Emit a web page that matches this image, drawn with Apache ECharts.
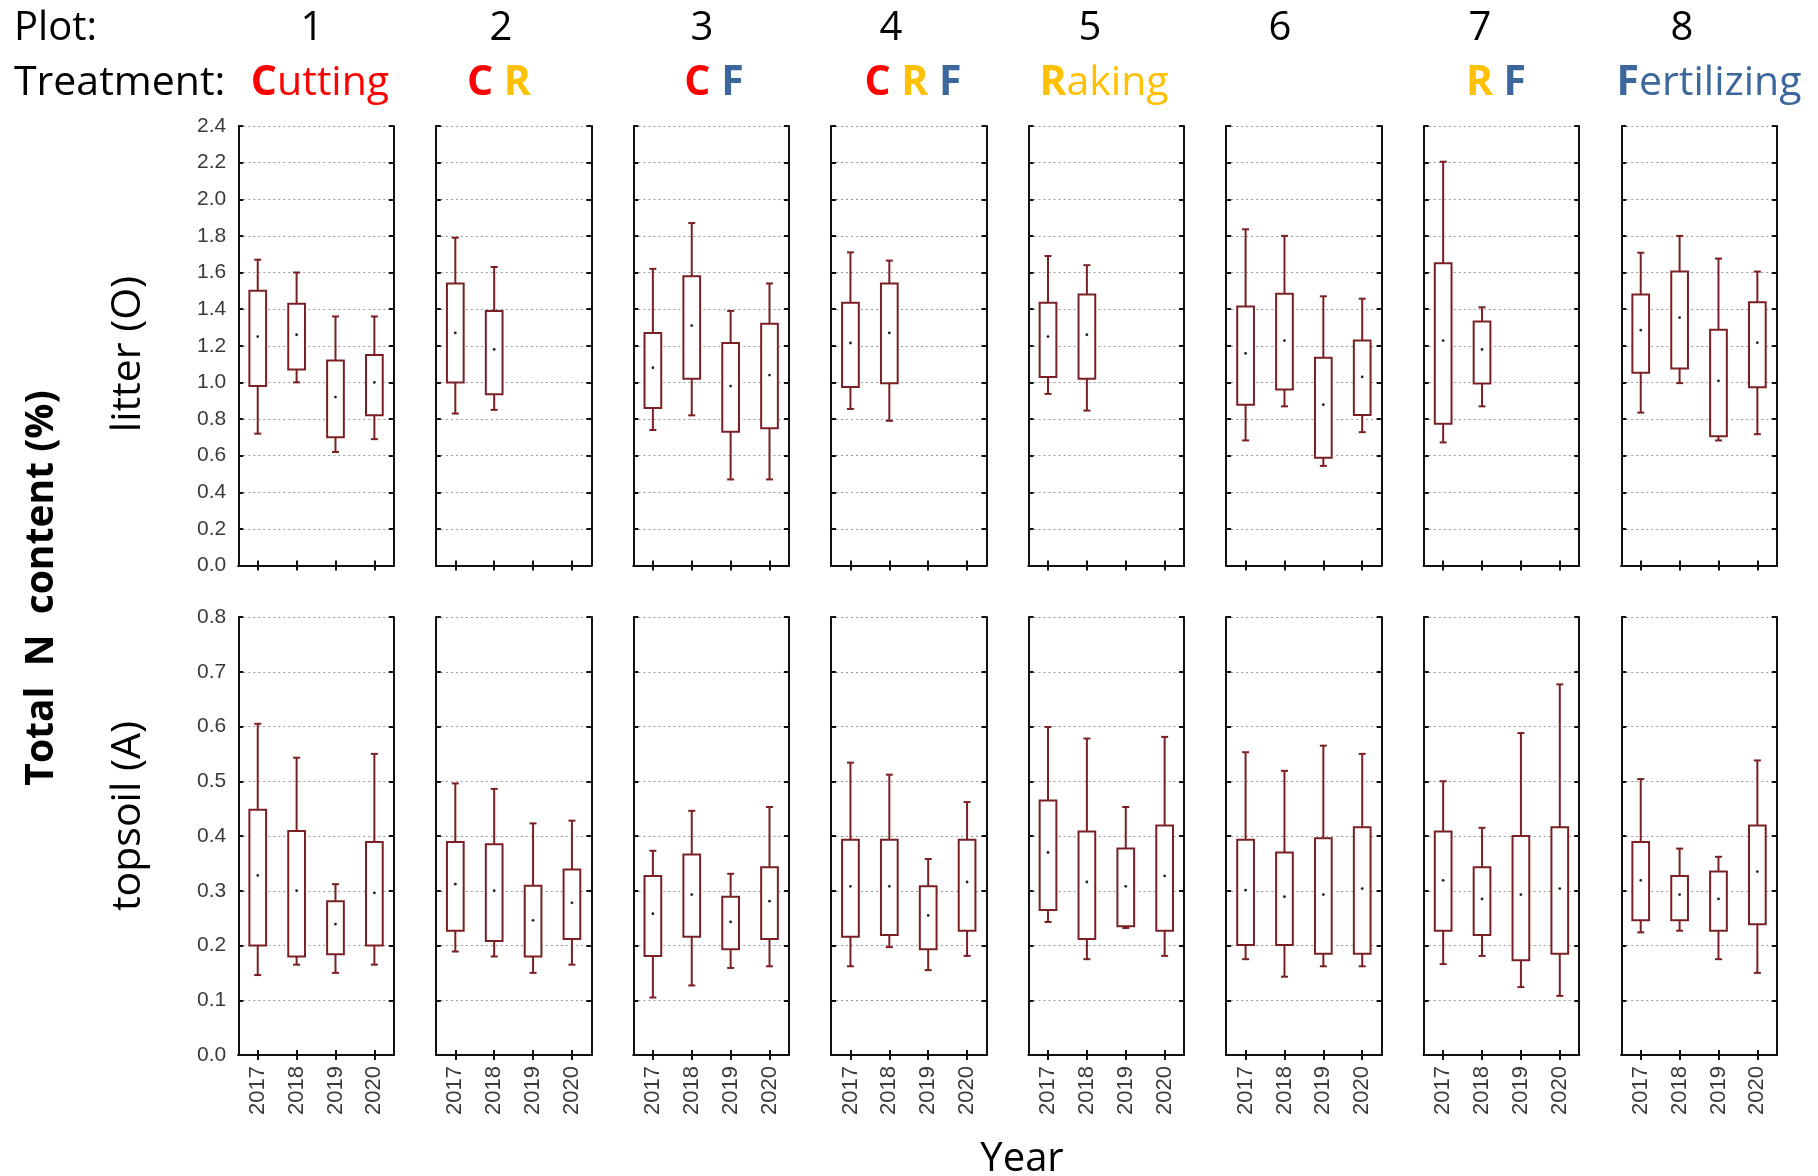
<!DOCTYPE html>
<html>
<head>
<meta charset="utf-8">
<title>Total N content</title>
<script src="https://cdn.jsdelivr.net/npm/echarts@6/dist/echarts.min.js"></script>
<style>
  html, body { margin: 0; padding: 0; background: #fff; }
  #chart { width: 1818px; height: 1176px; }
</style>
</head>
<body>
<div id="chart"></div>
<script>
// categories
var years = ["2017", "2018", "2019", "2020"];
var plots = ["1", "2", "3", "4", "5", "6", "7", "8"];

// box stats per year: [min, q1, median, q3, max], null = not sampled
var litter1 = [[0.72, 0.98, 1.25, 1.50, 1.67], [1.00, 1.07, 1.26, 1.43, 1.60], [0.62, 0.70, 0.92, 1.12, 1.36], [0.69, 0.82, 1.00, 1.15, 1.36]];
var litter2 = [[0.83, 1.00, 1.27, 1.54, 1.79], [0.85, 0.935, 1.18, 1.39, 1.63], null, null];
var litter3 = [[0.74, 0.86, 1.08, 1.27, 1.62], [0.82, 1.02, 1.31, 1.58, 1.87], [0.47, 0.73, 0.98, 1.215, 1.39], [0.47, 0.75, 1.04, 1.32, 1.54]];
var litter4 = [[0.855, 0.975, 1.215, 1.435, 1.71], [0.79, 0.995, 1.27, 1.54, 1.665], null, null];
var litter5 = [[0.937, 1.03, 1.25, 1.435, 1.69], [0.846, 1.02, 1.26, 1.48, 1.64], null, null];
var litter6 = [[0.683, 0.878, 1.158, 1.415, 1.836], [0.869, 0.961, 1.228, 1.484, 1.80], [0.544, 0.589, 0.878, 1.135, 1.47], [0.728, 0.822, 1.03, 1.228, 1.457]];
var litter7 = [[0.672, 0.774, 1.228, 1.65, 2.205], [0.869, 0.994, 1.18, 1.332, 1.41], null, null];
var litter8 = [[0.835, 1.052, 1.285, 1.48, 1.708], [0.996, 1.076, 1.354, 1.605, 1.80], [0.683, 0.706, 1.008, 1.287, 1.676], [0.717, 0.974, 1.217, 1.437, 1.605]];

var topsoil1 = [[0.146, 0.20, 0.328, 0.448, 0.605], [0.165, 0.18, 0.30, 0.409, 0.543], [0.15, 0.184, 0.239, 0.281, 0.312], [0.165, 0.20, 0.296, 0.389, 0.55]];
var topsoil2 = [[0.189, 0.227, 0.312, 0.389, 0.496], [0.18, 0.208, 0.30, 0.385, 0.486], [0.15, 0.18, 0.246, 0.309, 0.423], [0.165, 0.212, 0.278, 0.339, 0.428]];
var topsoil3 = [[0.105, 0.181, 0.258, 0.327, 0.373], [0.127, 0.216, 0.293, 0.366, 0.446], [0.159, 0.193, 0.243, 0.289, 0.331], [0.162, 0.212, 0.281, 0.343, 0.453]];
var topsoil4 = [[0.162, 0.216, 0.308, 0.393, 0.534], [0.197, 0.219, 0.308, 0.393, 0.512], [0.155, 0.193, 0.255, 0.308, 0.358], [0.181, 0.227, 0.316, 0.393, 0.462]];
var topsoil5 = [[0.243, 0.265, 0.37, 0.465, 0.599], [0.175, 0.212, 0.316, 0.408, 0.578], [0.232, 0.235, 0.308, 0.377, 0.453], [0.181, 0.227, 0.327, 0.419, 0.581]];
var topsoil6 = [[0.175, 0.201, 0.301, 0.393, 0.553], [0.143, 0.201, 0.289, 0.37, 0.519], [0.162, 0.185, 0.293, 0.396, 0.565], [0.162, 0.185, 0.304, 0.416, 0.55]];
var topsoil7 = [[0.166, 0.227, 0.319, 0.408, 0.50], [0.181, 0.219, 0.285, 0.343, 0.415], [0.124, 0.173, 0.293, 0.40, 0.588], [0.108, 0.185, 0.304, 0.416, 0.677]];
var topsoil8 = [[0.224, 0.246, 0.319, 0.389, 0.504], [0.227, 0.246, 0.293, 0.327, 0.377], [0.175, 0.227, 0.285, 0.335, 0.362], [0.15, 0.239, 0.335, 0.419, 0.538]];

var litterStats = [litter1, litter2, litter3, litter4, litter5, litter6, litter7, litter8];
var topsoilStats = [topsoil1, topsoil2, topsoil3, topsoil4, topsoil5, topsoil6, topsoil7, topsoil8];

// axis ranges
var litterMax = 2.4, litterStep = 0.2;
var topsoilMax = 0.8, topsoilStep = 0.1;

var boxColor = "#7a2024";
var frameColor = "#111";
var RED = "#ff0000", GOLD = "#ffc000", BLUE = "#3c679c";

var myChart = echarts.init(document.getElementById("chart"));

function renderBox(params, api) {
  var xi = api.value(0);
  var lo = api.coord([xi, api.value(1)]);
  var q1 = api.coord([xi, api.value(2)]);
  var md = api.coord([xi, api.value(3)]);
  var q3 = api.coord([xi, api.value(4)]);
  var hi = api.coord([xi, api.value(5)]);
  var cx = lo[0];
  var bw = api.size([1, 0])[0] * 0.43;
  var ls = { stroke: boxColor, lineWidth: 2, fill: null };
  return {
    type: "group",
    children: [
      { type: "line", shape: { x1: cx, y1: hi[1], x2: cx, y2: q3[1] }, style: ls },
      { type: "line", shape: { x1: cx, y1: q1[1], x2: cx, y2: lo[1] }, style: ls },
      { type: "line", shape: { x1: cx - 3.5, y1: hi[1], x2: cx + 3.5, y2: hi[1] }, style: ls },
      { type: "line", shape: { x1: cx - 3.5, y1: lo[1], x2: cx + 3.5, y2: lo[1] }, style: ls },
      { type: "rect", shape: { x: cx - bw / 2, y: q3[1], width: bw, height: q1[1] - q3[1] },
        style: { stroke: boxColor, lineWidth: 2, fill: "#fff" } },
      { type: "circle", shape: { cx: cx, cy: md[1], r: 1.4 }, style: { fill: "#222" } }
    ]
  };
}

var grids = [], xAxes = [], yAxes = [], series = [];

function addPanel(row, i, stats) {
  var k = grids.length;
  var maxV = row === 0 ? litterMax : topsoilMax;
  var step = row === 0 ? litterStep : topsoilStep;
  grids.push({
    left: 238.3 + 197.57 * i,
    top: row === 0 ? 126 : 617,
    width: 155.5,
    height: row === 0 ? 439.5 : 438
  });
  var tick = { show: true, inside: true, length: 5, alignWithLabel: true, lineStyle: { color: frameColor, width: 2 } };
  var line = { show: true, lineStyle: { color: frameColor, width: 2 } };
  xAxes.push({
    type: "category", gridIndex: k, data: years, boundaryGap: true,
    axisLine: line, axisTick: tick, splitLine: { show: false },
    axisLabel: {
      show: row === 1, rotate: 90, margin: 11, interval: 0,
      fontFamily: "Liberation Sans", fontSize: 22, color: "#3a3a3a"
    }
  });
  xAxes.push({
    type: "category", gridIndex: k, data: years, position: "top", boundaryGap: true,
    axisLine: line, axisTick: tick, axisLabel: { show: false }, splitLine: { show: false }
  });
  yAxes.push({
    type: "value", gridIndex: k, min: 0, max: maxV, interval: step,
    axisLine: line, axisTick: { show: true, inside: true, length: 5, lineStyle: { color: frameColor, width: 2 } },
    splitLine: { show: true, lineStyle: { color: "#9a9a9a", type: [2, 3], width: 1 } },
    axisLabel: {
      show: i === 0, margin: 12, fontFamily: "Liberation Sans", fontSize: 21, color: "#3a3a3a",
      formatter: function (v) { return v.toFixed(1); }
    }
  });
  yAxes.push({
    type: "value", gridIndex: k, min: 0, max: maxV, interval: step, position: "right",
    axisLine: line, axisTick: { show: true, inside: true, length: 5, lineStyle: { color: frameColor, width: 2 } },
    axisLabel: { show: false }, splitLine: { show: false }
  });
  var data = [];
  for (var j = 0; j < years.length; j++) {
    var s = stats[j];
    if (s) data.push([j, s[0], s[1], s[2], s[3], s[4]]);
  }
  series.push({
    type: "custom", xAxisIndex: 2 * k, yAxisIndex: 2 * k,
    renderItem: renderBox, encode: { x: 0, y: [1, 2, 3, 4, 5] },
    data: data, silent: true
  });
}

for (var i = 0; i < plots.length; i++) addPanel(0, i, litterStats[i]);
for (var i = 0; i < plots.length; i++) addPanel(1, i, topsoilStats[i]);

// header texts
var plotLabelX = [312, 501, 702, 891, 1090, 1280, 1480, 1682];
var treatX = [320, 499, 714, 913, 1104, 0, 1496, 1709];
var treatText = [
  "{c|C}{cn|utting}", "{c|C} {r|R}", "{c|C} {f|F}", "{c|C} {r|R} {f|F}",
  "{r|R}{rn|aking}", "", "{r|R} {f|F}", "{f|F}{fn|ertilizing}"
];
var headFont = "Open Sans";
var rich = {
  c: { fill: RED, fontWeight: "bold", fontSize: 41, fontFamily: headFont },
  cn: { fill: RED, fontSize: 41, fontFamily: headFont },
  r: { fill: GOLD, fontWeight: "bold", fontSize: 41, fontFamily: headFont },
  rn: { fill: GOLD, fontSize: 41, fontFamily: headFont },
  f: { fill: BLUE, fontWeight: "bold", fontSize: 41, fontFamily: headFont },
  fn: { fill: BLUE, fontSize: 41, fontFamily: headFont }
};

var graphics = [
  { type: "text", x: 14, y: 29, style: { text: "Plot:", fill: "#000", font: "40px 'Open Sans'", textVerticalAlign: "middle" } },
  { type: "text", x: 14, y: 83, style: { text: "Treatment:", fill: "#000", font: "41px 'Open Sans'", textVerticalAlign: "middle" } },
  { type: "text", x: 42, y: 588, rotation: Math.PI / 2,
    style: { text: "Total  N  content (%)", fill: "#000", font: "bold 39px 'Open Sans'", textAlign: "center", textVerticalAlign: "middle" } },
  { type: "text", x: 128, y: 354, rotation: Math.PI / 2,
    style: { text: "litter (O)", fill: "#000", font: "41px 'Open Sans'", textAlign: "center", textVerticalAlign: "middle" } },
  { type: "text", x: 128, y: 816, rotation: Math.PI / 2,
    style: { text: "topsoil (A)", fill: "#000", font: "41px 'Open Sans'", textAlign: "center", textVerticalAlign: "middle" } },
  { type: "text", x: 1022, y: 1160, style: { text: "Year", fill: "#000", font: "40px 'Open Sans'", textAlign: "center", textVerticalAlign: "middle" } }
];
for (var i = 0; i < plots.length; i++) {
  graphics.push({ type: "text", x: plotLabelX[i], y: 29,
    style: { text: plots[i], fill: "#000", font: "40px 'Open Sans'", textAlign: "center", textVerticalAlign: "middle" } });
  if (treatText[i]) {
    graphics.push({ type: "text", x: treatX[i], y: 83,
      style: { text: treatText[i], rich: rich, font: "41px 'Open Sans'", textAlign: "center", textVerticalAlign: "middle" } });
  }
}

myChart.setOption({
  backgroundColor: "#fff",
  animation: false,
  grid: grids,
  xAxis: xAxes,
  yAxis: yAxes,
  series: series,
  graphic: graphics
});
</script>
</body>
</html>
